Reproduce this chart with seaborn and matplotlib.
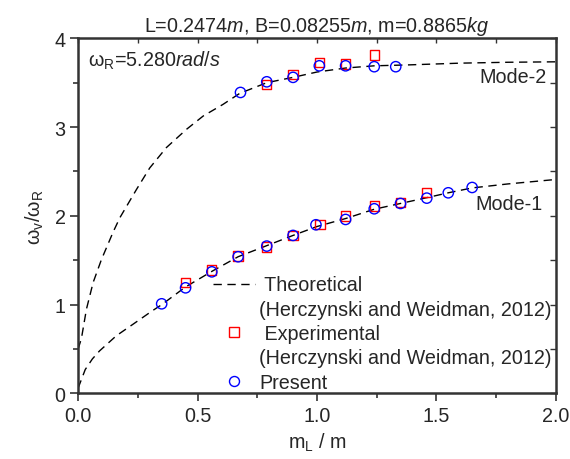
import matplotlib
matplotlib.use("Agg")
import matplotlib.pyplot as plt
import seaborn as sns
import pandas as pd
from matplotlib.lines import Line2D
from matplotlib.ticker import MultipleLocator

# ---------------- data ----------------
theo1_x = [0.0, 0.03, 0.06, 0.09, 0.16, 0.23, 0.31, 0.35, 0.45, 0.56, 0.67, 0.79, 0.90,
           1.0, 1.12, 1.24, 1.35, 1.46, 1.55, 1.65, 1.80, 2.0]
theo1_y = [0.06, 0.27, 0.39, 0.48, 0.65, 0.78, 0.93, 1.0, 1.2, 1.375, 1.54, 1.665, 1.78,
           1.88, 1.97, 2.075, 2.14, 2.205, 2.26, 2.315, 2.36, 2.41]
theo2_x = [0.0, 0.014, 0.035, 0.063, 0.098, 0.147, 0.175, 0.21, 0.245, 0.30, 0.37, 0.454,
           0.524, 0.607, 0.677, 0.79, 0.90, 1.0, 1.12, 1.24, 1.38, 1.6, 1.8, 2.0]
theo2_y = [0.50, 0.62, 0.95, 1.25, 1.51, 1.82, 1.98, 2.14, 2.30, 2.54, 2.77, 2.975,
           3.125, 3.256, 3.38, 3.50, 3.56, 3.62, 3.665, 3.69, 3.70, 3.72, 3.73, 3.735]

exp1_x = [0.45, 0.56, 0.67, 0.79, 0.90, 1.013, 1.12, 1.24, 1.35, 1.46]
exp1_y = [1.25, 1.39, 1.55, 1.65, 1.78, 1.90, 2.00, 2.11, 2.15, 2.26]
exp2_x = [0.79, 0.90, 1.01, 1.12, 1.24]
exp2_y = [3.48, 3.59, 3.73, 3.71, 3.81]

pres1_x = [0.35, 0.45, 0.56, 0.67, 0.79, 0.90, 0.996, 1.12, 1.24, 1.35, 1.46, 1.55, 1.65]
pres1_y = [1.01, 1.19, 1.37, 1.54, 1.66, 1.78, 1.90, 1.96, 2.08, 2.14, 2.20, 2.26, 2.32]
pres2_x = [0.68, 0.79, 0.90, 1.01, 1.12, 1.24, 1.33]
pres2_y = [3.39, 3.51, 3.56, 3.69, 3.69, 3.68, 3.68]

legend_labels = [" Theoretical", "(Herczynski and Weidman, 2012)",
                 " Experimental", "(Herczynski and Weidman, 2012)",
                 "Present"]

# ---------------- style ----------------
sns.set_style("ticks")
plt.rcParams['font.family'] = ['Liberation Sans', 'DejaVu Sans']
plt.rcParams['mathtext.fontset'] = 'custom'
plt.rcParams['mathtext.rm'] = 'Liberation Sans'
plt.rcParams['mathtext.it'] = 'Liberation Sans:italic'
plt.rcParams['mathtext.bf'] = 'Liberation Sans:bold'

FS = 14.2
spine_col = '#333333'

fig = plt.figure(figsize=(5.7, 4.6), dpi=100)
ax = fig.add_axes([0.137, 0.1424, 0.838, 0.7722])

df_t1 = pd.DataFrame({'x': theo1_x, 'y': theo1_y})
df_t2 = pd.DataFrame({'x': theo2_x, 'y': theo2_y})
dash = (6, 4)
sns.lineplot(data=df_t1, x='x', y='y', ax=ax, color='black', lw=1.0, sort=False,
             estimator=None, dashes=False)
sns.lineplot(data=df_t2, x='x', y='y', ax=ax, color='black', lw=1.0, sort=False,
             estimator=None, dashes=False)
for ln in ax.lines:
    ln.set_dashes(dash)

df_e = pd.DataFrame({'x': exp1_x + exp2_x, 'y': exp1_y + exp2_y})
df_p = pd.DataFrame({'x': pres1_x + pres2_x, 'y': pres1_y + pres2_y})
sns.scatterplot(data=df_e, x='x', y='y', ax=ax, marker='s', s=45,
                facecolor='none', edgecolor='#ff0000', linewidth=1.0, zorder=3)
sns.scatterplot(data=df_p, x='x', y='y', ax=ax, marker='o', s=55,
                facecolor='none', edgecolor='#0000ff', linewidth=1.0, zorder=4)

ax.set_xlim(0, 2.0)
ax.set_ylim(0, 4)
ax.xaxis.set_major_locator(MultipleLocator(0.5))
ax.xaxis.set_minor_locator(MultipleLocator(0.25))
ax.yaxis.set_major_locator(MultipleLocator(1))
ax.yaxis.set_minor_locator(MultipleLocator(0.5))
ax.xaxis.set_major_formatter(matplotlib.ticker.FormatStrFormatter('%.1f'))

for sp in ax.spines.values():
    sp.set_visible(True)
    sp.set_color(spine_col)
    sp.set_linewidth(1.8)

ax.tick_params(which='major', direction='out', length=6, width=1.2, color=spine_col,
               labelsize=FS, pad=3)
ax.tick_params(which='minor', direction='out', length=3.5, width=1.2, color=spine_col)

top = ax.secondary_xaxis('top')
top.xaxis.set_major_locator(MultipleLocator(0.25))
top.tick_params(which='both', direction='in', length=3.5, width=1.0, color=spine_col,
                labeltop=False)
top.spines['top'].set_visible(False)
right = ax.secondary_yaxis('right')
right.yaxis.set_major_locator(MultipleLocator(0.5))
right.tick_params(which='both', direction='in', length=4.5, width=1.0, color=spine_col,
                  labelright=False)
right.spines['right'].set_visible(False)

ax.set_xlabel(r'$\mathregular{m_L}$ / m', fontsize=FS, labelpad=4)
ax.set_ylabel(r'$\mathregular{ω_v/ω_R}$', fontsize=FS, labelpad=6)
ax.set_title(r'L=0.2474$\it{m}$, B=0.08255$\it{m}$, m=0.8865$\it{kg}$', fontsize=FS, pad=5)

ax.text(0.04, 3.76, r'$\mathregular{ω_R}$=5.280$\it{rad/s}$', fontsize=FS,
        ha='left', va='center')
ax.text(1.963, 3.57, 'Mode-2', fontsize=FS, ha='right', va='center')
ax.text(1.947, 2.14, 'Mode-1', fontsize=FS, ha='right', va='center')

blank = Line2D([], [], ls='none', marker='none')
handles = [Line2D([], [], color='black', lw=1.0, dashes=dash),
           blank,
           Line2D([], [], ls='none', marker='s', ms=6.5, mfc='none', mec='#ff0000', mew=1.0),
           blank,
           Line2D([], [], ls='none', marker='o', ms=7.2, mfc='none', mec='#0000ff', mew=1.0)]
leg = ax.legend(handles, legend_labels, loc='lower left', bbox_to_anchor=(0.283, 0.005),
                frameon=False, fontsize=FS, handlelength=2.1, handletextpad=0.22,
                labelspacing=0.27, borderpad=0, borderaxespad=0)

fig.savefig('out.png', dpi=100)
